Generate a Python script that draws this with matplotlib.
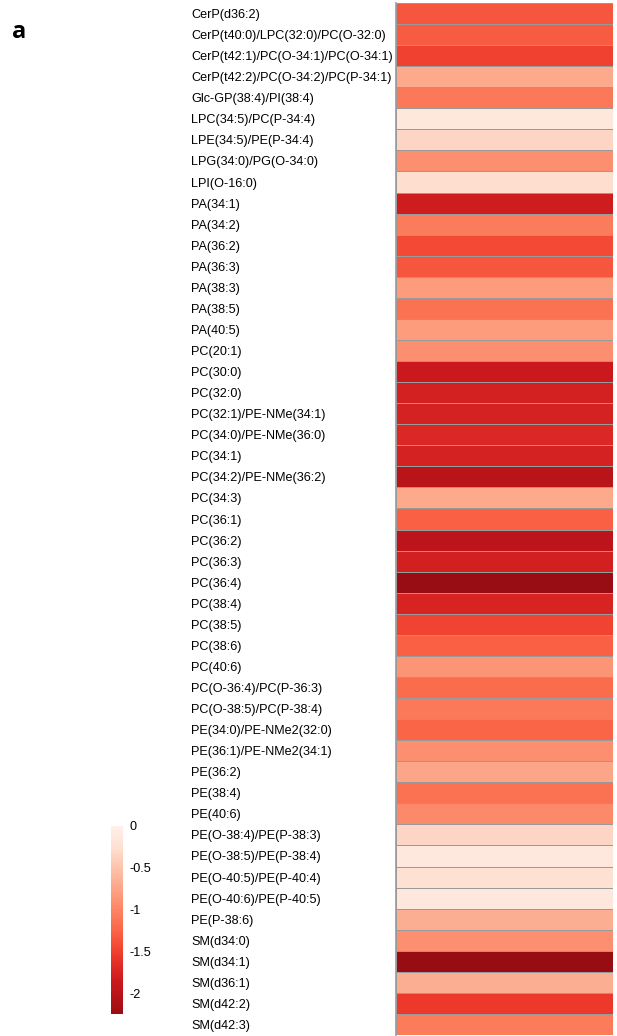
import matplotlib.pyplot as plt
import numpy as np
from matplotlib.colors import LinearSegmentedColormap, Normalize

plt.rcParams['font.family'] = ['Liberation Sans', 'DejaVu Sans']

lipidos = [
    "CerP(d36:2)", "CerP(t40:0)/LPC(32:0)/PC(O-32:0)", "CerP(t42:1)/PC(O-34:1)/PC(O-34:1)",
    "CerP(t42:2)/PC(O-34:2)/PC(P-34:1)", "Glc-GP(38:4)/PI(38:4)", "LPC(34:5)/PC(P-34:4)",
    "LPE(34:5)/PE(P-34:4)", "LPG(34:0)/PG(O-34:0)", "LPI(O-16:0)",
    "PA(34:1)", "PA(34:2)", "PA(36:2)", "PA(36:3)", "PA(38:3)", "PA(38:5)", "PA(40:5)",
    "PC(20:1)", "PC(30:0)", "PC(32:0)", "PC(32:1)/PE-NMe(34:1)", "PC(34:0)/PE-NMe(36:0)",
    "PC(34:1)", "PC(34:2)/PE-NMe(36:2)", "PC(34:3)", "PC(36:1)", "PC(36:2)", "PC(36:3)",
    "PC(36:4)", "PC(38:4)", "PC(38:5)", "PC(38:6)", "PC(40:6)", "PC(O-36:4)/PC(P-36:3)",
    "PC(O-38:5)/PC(P-38:4)", "PE(34:0)/PE-NMe2(32:0)", "PE(36:1)/PE-NMe2(34:1)",
    "PE(36:2)", "PE(38:4)", "PE(40:6)", "PE(O-38:4)/PE(P-38:3)", "PE(O-38:5)/PE(P-38:4)",
    "PE(O-40:5)/PE(P-40:4)", "PE(O-40:6)/PE(P-40:5)", "PE(P-38:6)",
    "SM(d34:0)", "SM(d34:1)", "SM(d36:1)", "SM(d42:2)", "SM(d42:3)",
]

valores = [
    -1.35, -1.32, -1.50, -0.72, -1.10, -0.15, -0.35, -0.92, -0.28,
    -1.82, -1.07, -1.45, -1.35, -0.82, -1.15, -0.82,
    -0.92, -1.85, -1.78, -1.77, -1.72,
    -1.77, -2.02, -0.72, -1.28, -1.98, -1.80,
    -2.25, -1.75, -1.48, -1.28, -0.87, -1.20,
    -1.10, -1.25, -0.92,
    -0.75, -1.15, -0.97, -0.35, -0.13,
    -0.24, -0.12, -0.68,
    -0.92, -2.25, -0.68, -1.55, -1.08,
]

ticks_barra = [0, -0.5, -1, -1.5, -2]

reds = plt.get_cmap("Reds")
cmap = LinearSegmentedColormap.from_list("rojos", reds(np.linspace(0.9, 0.03, 256)))
norm = Normalize(vmin=-2.25, vmax=0)

W, H = 617, 1036
fig = plt.figure(figsize=(W / 100, H / 100), dpi=100)

ax = fig.add_axes([396 / W, 1 - 1035 / H, 217 / W, 1032 / H])
datos = np.array(valores).reshape(-1, 1)
ax.pcolormesh(datos, cmap=cmap, norm=norm, edgecolors="#9a9a9a", linewidth=0.7)
ax.set_ylim(len(valores), 0)
ax.set_xlim(0, 1)
ax.set_xticks([])
ax.set_yticks(np.arange(len(valores)) + 0.5)
ax.set_yticklabels(lipidos, fontsize=9.1, ha="left")
ax.tick_params(axis="y", length=0, pad=147.5)
for s in ["top", "right", "bottom"]:
    ax.spines[s].set_visible(False)
ax.spines["left"].set_color("#9a9a9a")
ax.spines["left"].set_linewidth(1.2)

cax = fig.add_axes([111 / W, 1 - 1014 / H, 12 / W, 188 / H])
sm = plt.cm.ScalarMappable(cmap=cmap, norm=norm)
cb = fig.colorbar(sm, cax=cax, ticks=ticks_barra)
cb.ax.set_yticklabels(["0", "-0.5", "-1", "-1.5", "-2"], fontsize=9.1)
cb.ax.tick_params(length=0, pad=5)
cb.outline.set_visible(False)

fig.text(12 / W, 1 - 38 / H, "a", fontsize=17, fontweight="bold", family=["Open Sans", "DejaVu Sans"])

plt.savefig("out.png", dpi=100)
